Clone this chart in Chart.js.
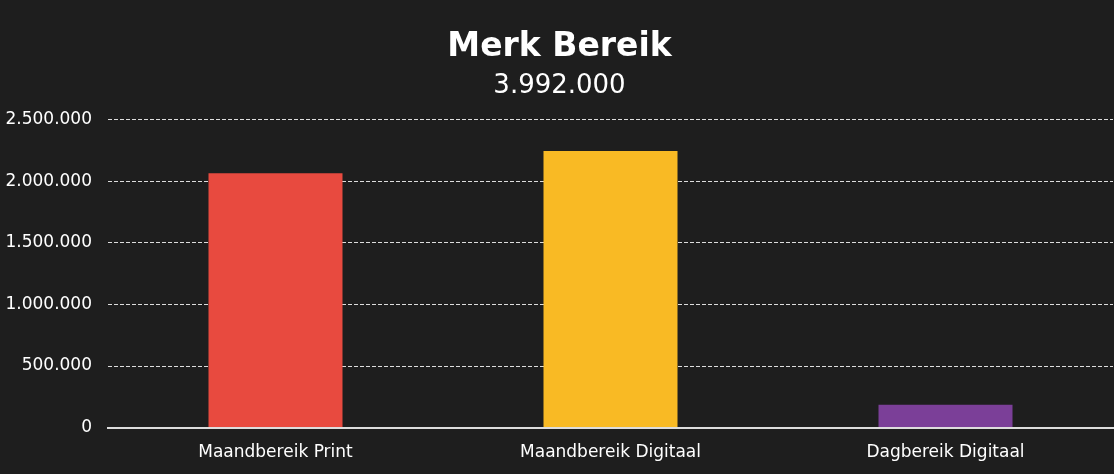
<!DOCTYPE html>
<html>
<head>
<meta charset="utf-8">
<script src="https://cdn.jsdelivr.net/npm/chart.js@4/dist/chart.umd.min.js"></script>
<style>
html,body{margin:0;padding:0;background:#1e1e1e;}
#wrap{width:1114px;height:474px;}
</style>
</head>
<body>
<div id="wrap"><canvas id="c" width="1114" height="474"></canvas></div>
<script>
const categories = ["Maandbereik Print", "Maandbereik Digitaal", "Dagbereik Digitaal"];
const values = [2066000, 2246000, 186000];
const barColors = ["#e84a3f", "#f9ba24", "#7b3f98"];
const titleText = "Merk Bereik";
const subtitleText = "3.992.000";

function fmt(v){ return String(Math.round(v)).replace(/\B(?=(\d{3})+(?!\d))/g, "."); }

const FONT = "'DejaVu Sans', sans-serif";

new Chart(document.getElementById('c'), {
  type: 'bar',
  data: {
    labels: categories,
    datasets: [{
      data: values,
      backgroundColor: barColors,
      borderWidth: 0,
      categoryPercentage: 0.8,
      barPercentage: 0.5
    }]
  },
  options: {
    responsive: false,
    animation: false,
    devicePixelRatio: 1,
    layout: { padding: { top: 28, right: 1, left: 6, bottom: 4 } },
    plugins: {
      legend: { display: false },
      tooltip: { enabled: false },
      title: {
        display: true,
        text: titleText,
        color: '#ffffff',
        font: { family: FONT, size: 33, weight: 'bold' },
        padding: { top: 0, bottom: 3 }
      },
      subtitle: {
        display: true,
        text: subtitleText,
        color: '#ffffff',
        font: { family: FONT, size: 26, weight: 'normal' },
        padding: { top: 0, bottom: 18 }
      }
    },
    scales: {
      x: {
        grid: { display: false },
        border: { display: true, color: '#dddddd', width: 2 },
        ticks: { color: '#ffffff', font: { family: FONT, size: 17 }, padding: 7 }
      },
      y: {
        min: 0,
        max: 2500000,
        afterFit(scale) { scale.width = 102; },
        ticks: {
          stepSize: 500000,
          color: '#ffffff',
          font: { family: FONT, size: 17 },
          padding: 16,
          callback: (v) => fmt(v)
        },
        grid: { color: '#dddddd', lineWidth: 1, drawTicks: false },
        border: { display: false, dash: [4, 2] }
      }
    }
  },
  plugins: [{
    id: 'bg',
    beforeDraw(chart) {
      const ctx = chart.ctx;
      ctx.save();
      ctx.fillStyle = '#1e1e1e';
      ctx.fillRect(0, 0, chart.width, chart.height);
      ctx.restore();
    }
  }]
});
</script>
</body>
</html>
